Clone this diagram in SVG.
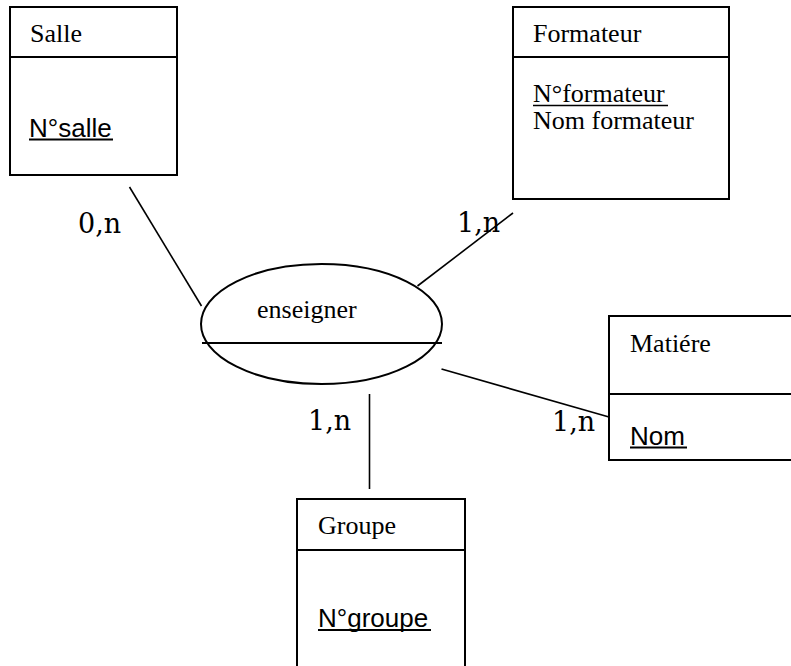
<svg xmlns="http://www.w3.org/2000/svg" width="791" height="666" viewBox="0 0 791 666">
<style>
.box{fill:#fff;stroke:#000;stroke-width:2}
.div{stroke:#000;stroke-width:2}
.ser{font-family:"Liberation Serif","Times New Roman",serif;font-size:26px;fill:#000}
.sans{font-family:"Liberation Sans",Arial,sans-serif;font-size:26px;fill:#000}
.card{font-family:"DejaVu Serif",Cambria,serif;font-size:27px;fill:#000}
.ul{stroke:#000;stroke-width:2}
.ulser{stroke:#000;stroke-width:1.4}
.conn line{stroke:#000;stroke-width:1.6}
</style>
<rect width="791" height="666" fill="#fff"/>
<g id="connectors" class="conn">
<line x1="129.5" y1="187" x2="201.5" y2="306"/>
<line x1="417.5" y1="286" x2="513" y2="213"/>
<line x1="441.5" y1="369" x2="609" y2="417"/>
<line x1="369.5" y1="394" x2="369.5" y2="489"/>
</g>
<g id="salle">
<rect class="box" x="10" y="7" width="167" height="168"/>
<line class="div" x1="10" y1="57" x2="177" y2="57"/>
<text class="ser" x="30" y="42">Salle</text>
<text class="sans" x="29" y="137">N°salle</text>
<line class="ul" x1="29" y1="139.5" x2="113" y2="139.5"/>
</g>
<g id="formateur">
<rect class="box" x="513" y="7" width="216" height="192"/>
<line class="div" x1="513" y1="57" x2="729" y2="57"/>
<text class="ser" x="533" y="42">Formateur</text>
<text class="ser" x="533" y="102">N°formateur</text>
<line class="ulser" x1="533" y1="105.5" x2="668" y2="105.5"/>
<text class="ser" x="533" y="129">Nom formateur</text>
</g>
<g id="enseigner">
<ellipse cx="321.5" cy="324" rx="120.5" ry="60" fill="#fff" stroke="#000" stroke-width="2"/>
<line class="div" x1="202" y1="343" x2="442" y2="343"/>
<text class="ser" x="257" y="318">enseigner</text>
</g>
<g id="matiere">
<rect class="box" x="609" y="316" width="190" height="144"/>
<line class="div" x1="609" y1="394" x2="799" y2="394"/>
<text class="ser" x="630" y="352">Matiére</text>
<text class="sans" x="630" y="445">Nom</text>
<line class="ul" x1="630" y1="447.5" x2="687" y2="447.5"/>
</g>
<g id="groupe">
<rect class="box" x="297" y="499" width="168" height="180"/>
<line class="div" x1="297" y1="550" x2="465" y2="550"/>
<text class="ser" x="318" y="534">Groupe</text>
<text class="sans" x="318" y="627">N°groupe</text>
<line class="ul" x1="318" y1="630" x2="431" y2="630"/>
</g>
<g id="cardinalities">
<text class="card" x="78" y="233">0,n</text>
<text class="card" x="457" y="232">1,n</text>
<text class="card" x="308" y="430">1,n</text>
<text class="card" x="552" y="431">1,n</text>
</g>
</svg>
